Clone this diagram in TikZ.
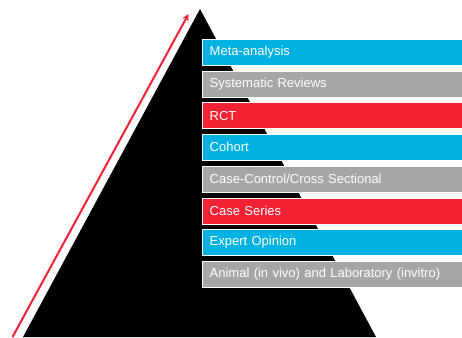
\documentclass[tikz,border=0pt]{standalone}
\usepackage{fontspec}
\setmainfont{Liberation Sans}
\usepackage{tikz}
\usetikzlibrary{arrows,positioning}

\definecolor{levelblue}{RGB}{0,178,226}
\definecolor{levelgray}{RGB}{166,166,166}
\definecolor{levelred}{RGB}{242,34,52}

\begin{document}
\begin{tikzpicture}
  [x=1pt,y=-1pt,node distance=5.3pt,
   level/.style={rectangle,anchor=north west,minimum height=26pt,text width=245pt,
     inner xsep=7.5pt,inner ysep=0pt,align=left,text=white,font=\fontsize{13}{13}\selectfont,
     draw=white,line width=0.4pt}]

  \useasboundingbox (0,0) rectangle (462,337);

  % pyramid
  \coordinate (apex) at (200,9);
  \coordinate (baseL) at (23,337);
  \coordinate (baseR) at (376,337);
  \fill[black] (apex) -- (baseL) -- (baseR) -- cycle;

  % rising arrow
  \coordinate (arrowS) at (12.5,337);
  \coordinate (arrowE) at (188.5,14);
  \draw[levelred,line width=2pt,-stealth] (arrowS) -- (arrowE);

  % levels of evidence
  \node[level,fill=levelblue] (meta) at (202,39) {Meta-analysis};
  \node[level,fill=levelgray,below=of meta.south west,anchor=north west] (sysrev) {Systematic Reviews};
  \node[level,fill=levelred,below=of sysrev.south west,anchor=north west] (rct) {RCT};
  \node[level,fill=levelblue,below=of rct.south west,anchor=north west] (cohort) {Cohort};
  \node[level,fill=levelgray,below=of cohort.south west,anchor=north west] (casectrl) {Case-Control/Cross Sectional};
  \node[level,fill=levelred,below=of casectrl.south west,anchor=north west] (series) {Case Series};
  \node[level,fill=levelblue,below=of series.south west,anchor=north west] (expert) {Expert Opinion};
  \node[level,fill=levelgray,below=of expert.south west,anchor=north west] (animal) {Animal (in vivo) and Laboratory (invitro)};

\end{tikzpicture}
\end{document}
